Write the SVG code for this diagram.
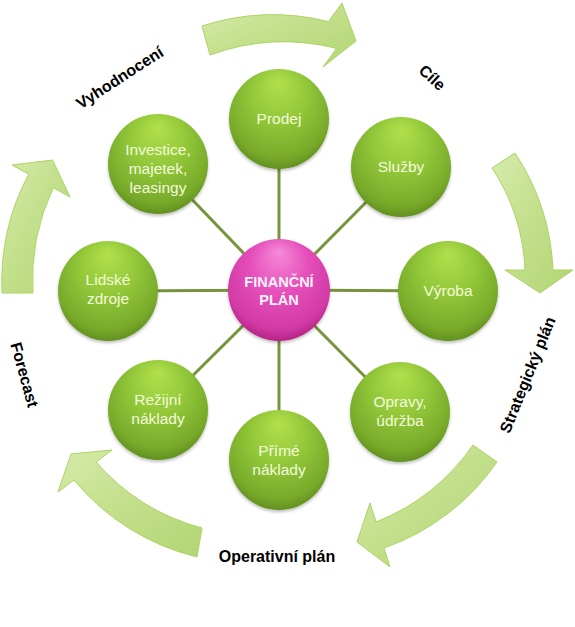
<svg xmlns="http://www.w3.org/2000/svg" width="575" height="627" viewBox="0 0 575 627">
<defs>
  <radialGradient id="gGreen" cx="50%" cy="40%" r="62%" fx="50%" fy="12%">
    <stop offset="0" stop-color="#b2e04c"/>
    <stop offset="0.45" stop-color="#93c83a"/>
    <stop offset="0.85" stop-color="#78aa2a"/>
    <stop offset="1" stop-color="#5f8c1e"/>
  </radialGradient>
  <radialGradient id="gPink" cx="50%" cy="40%" r="62%" fx="50%" fy="12%">
    <stop offset="0" stop-color="#f58ad8"/>
    <stop offset="0.45" stop-color="#e650bb"/>
    <stop offset="0.85" stop-color="#d23aa6"/>
    <stop offset="1" stop-color="#b0207f"/>
  </radialGradient>
  <linearGradient id="gArrow" x1="0" y1="0" x2="1" y2="1">
    <stop offset="0" stop-color="#d6ebab"/>
    <stop offset="0.5" stop-color="#c2df8a"/>
    <stop offset="1" stop-color="#b2d574"/>
  </linearGradient>
  <filter id="sh" x="-20%" y="-20%" width="140%" height="140%">
    <feDropShadow dx="0" dy="2" stdDeviation="1.5" flood-color="#000" flood-opacity="0.25"/>
  </filter>
</defs>
<style>
  .node { fill: url(#gGreen); filter: url(#sh); }
  .hub { fill: url(#gPink); filter: url(#sh); }
  .t { font-family: "Liberation Sans", Arial, sans-serif; font-size: 15.5px; fill: #f3fadb; text-anchor: middle; }
  .tc { font-family: "Liberation Sans", Arial, sans-serif; font-size: 14.5px; font-weight: bold; fill: #fff0fa; text-anchor: middle; }
  .lbl { font-family: "Liberation Sans", Arial, sans-serif; font-size: 16px; font-weight: bold; fill: #000; text-anchor: middle; }
  .arr { fill: url(#gArrow); stroke: #acd463; stroke-width: 1; stroke-linejoin: round; }
  .con { stroke: #77933c; stroke-width: 3; fill: none; }
</style>

<g id="cycle-arrows">
  <path class="arr" d="M202,26 A230,230 0 0 1 328.5,21.6 L342,3 L356,41 L323,67 L336.5,48.4 A215,215 0 0 0 210,55 Z"/>
  <path class="arr" d="M515,153 A230,230 0 0 1 553,270 L573,270 L540,293 L505,270 L525,270 A200,200 0 0 0 492,168 Z"/>
  <path class="arr" d="M497,462 A230,230 0 0 1 384,548 L390,567 L357,542 L370,503 L376,522 A215,215 0 0 0 473,445 Z"/>
  <path class="arr" d="M197,557 A230,230 0 0 1 74,480 L58,492 L71,454 L112,450 L96,462 A215,215 0 0 0 202,528 Z"/>
  <path class="arr" d="M2,293 A230,230 0 0 1 28.7,174.2 L12,165 L52.6,160 L70,197 L53.3,187.8 A215,215 0 0 0 33,293 Z"/>
</g>

<g id="connectors">
  <line class="con" x1="279" y1="290" x2="279" y2="119"/>
  <line class="con" x1="279" y1="290" x2="401" y2="167"/>
  <line class="con" x1="279" y1="290" x2="448" y2="291"/>
  <line class="con" x1="279" y1="290" x2="400" y2="412"/>
  <line class="con" x1="279" y1="290" x2="279" y2="460"/>
  <line class="con" x1="279" y1="290" x2="158" y2="410"/>
  <line class="con" x1="279" y1="290" x2="108" y2="291"/>
  <line class="con" x1="279" y1="290" x2="158" y2="164"/>
</g>

<g id="node-prodej"><circle class="node" cx="279" cy="119" r="50"/><text class="t" x="279" y="124">Prodej</text></g>
<g id="node-sluzby"><circle class="node" cx="401" cy="167" r="50"/><text class="t" x="401" y="172">Služby</text></g>
<g id="node-vyroba"><circle class="node" cx="448" cy="291" r="50"/><text class="t" x="448" y="296">Výroba</text></g>
<g id="node-opravy"><circle class="node" cx="400" cy="412" r="50"/><text class="t" x="400" y="407">Opravy,</text><text class="t" x="400" y="426">údržba</text></g>
<g id="node-prime"><circle class="node" cx="279" cy="460" r="50"/><text class="t" x="279" y="456">Přímé</text><text class="t" x="279" y="475">náklady</text></g>
<g id="node-rezijni"><circle class="node" cx="158" cy="410" r="50"/><text class="t" x="158" y="405">Režijní</text><text class="t" x="158" y="424">náklady</text></g>
<g id="node-lidske"><circle class="node" cx="108" cy="291" r="50"/><text class="t" x="108" y="285">Lidské</text><text class="t" x="108" y="304">zdroje</text></g>
<g id="node-investice"><circle class="node" cx="158" cy="164" r="50"/><text class="t" x="158" y="155">Investice,</text><text class="t" x="158" y="174">majetek,</text><text class="t" x="158" y="193">leasingy</text></g>
<g id="node-center"><circle class="hub" cx="279" cy="290" r="51"/><text class="tc" x="279" y="287">FINANČNÍ</text><text class="tc" x="279" y="305">PLÁN</text></g>

<g id="labels">
  <text class="lbl" transform="translate(120,78) rotate(-33)" x="0" y="5">Vyhodnocení</text>
  <text class="lbl" transform="translate(432,78) rotate(43)" x="0" y="5">Cíle</text>
  <text class="lbl" transform="translate(528,375) rotate(-68)" x="0" y="5">Strategický plán</text>
  <text class="lbl" transform="translate(24,375) rotate(74.5)" x="0" y="5">Forecast</text>
  <text class="lbl" x="277" y="562">Operativní plán</text>
</g>
</svg>
